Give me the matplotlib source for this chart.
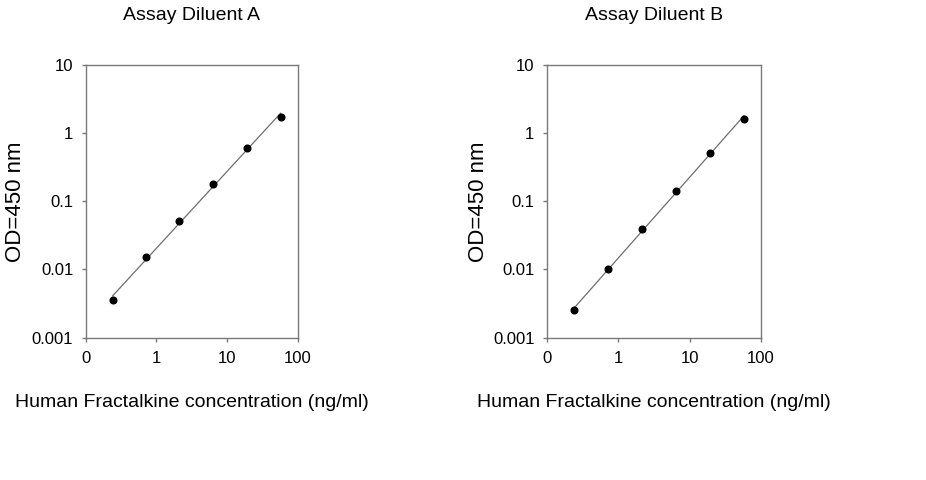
import numpy as np
import matplotlib
matplotlib.use("Agg")
import matplotlib.pyplot as plt
from matplotlib.ticker import FixedLocator, FixedFormatter, NullLocator

plt.rcParams['font.family'] = ['Liberation Sans', 'DejaVu Sans']

conc = [0.24, 0.72, 2.13, 6.4, 19.2, 57.6]
od_a = [0.00355, 0.015, 0.051, 0.179, 0.598, 1.72]
od_b = [0.0025, 0.010, 0.039, 0.14, 0.51, 1.63]
titles = ["Assay Diluent A", "Assay Diluent B"]
xticks = [0.1, 1, 10, 100]
xtick_labels = ["0", "1", "10", "100"]
yticks = [0.001, 0.01, 0.1, 1, 10]
ytick_labels = ["0.001", "0.01", "0.1", "1", "10"]
xlabel = "Human Fractalkine concentration (ng/ml)"
ylabel = "OD=450 nm"

fig = plt.figure(figsize=(9.26, 4.8), dpi=100)
W, H = 926, 480
boxes = [(85.7, 65, 297.5, 337.5), (547, 65, 761, 337.5)]
ylab_x = [16, 478]

for i, (series, title) in enumerate(zip([od_a, od_b], titles)):
    x0, y0, x1, y1 = boxes[i]
    ax = fig.add_axes([x0 / W, 1 - y1 / H, (x1 - x0) / W, (y1 - y0) / H])
    ax.set_xscale('log')
    ax.set_yscale('log')
    ax.set_xlim(0.1, 100)
    ax.set_ylim(0.001, 10)
    lx = np.log10(conc)
    ly = np.log10(series)
    k, b = np.polyfit(lx, ly, 1)
    fx = np.array([min(conc), max(conc)])
    ax.plot(fx, 10 ** (k * np.log10(fx) + b), color='#6e6e6e', lw=0.9, zorder=2)
    ax.plot(conc, series, 'o', color='black', ms=4.8, zorder=3)
    ax.xaxis.set_major_locator(FixedLocator(xticks))
    ax.xaxis.set_major_formatter(FixedFormatter(xtick_labels))
    ax.yaxis.set_major_locator(FixedLocator(yticks))
    ax.yaxis.set_major_formatter(FixedFormatter(ytick_labels))
    ax.xaxis.set_minor_locator(NullLocator())
    ax.yaxis.set_minor_locator(NullLocator())
    for s in ax.spines.values():
        s.set_color('#7a7a7a')
        s.set_linewidth(1.0)
    ax.tick_params(axis='both', direction='out', length=3, width=1.0,
                   color='#7a7a7a', labelsize=12, labelcolor='black')
    ax.tick_params(axis='x', pad=7)
    ax.tick_params(axis='y', pad=6)
    ax.set_title(title, fontsize=14, pad=32.5)
    ax.set_xlabel(xlabel, fontsize=14, labelpad=20)
    ax.set_ylabel(ylabel, fontsize=16, va='center')
    ax.yaxis.set_label_coords((ylab_x[i] - x0) / (x1 - x0), 0.5)

fig.savefig("out.png", dpi=100)
